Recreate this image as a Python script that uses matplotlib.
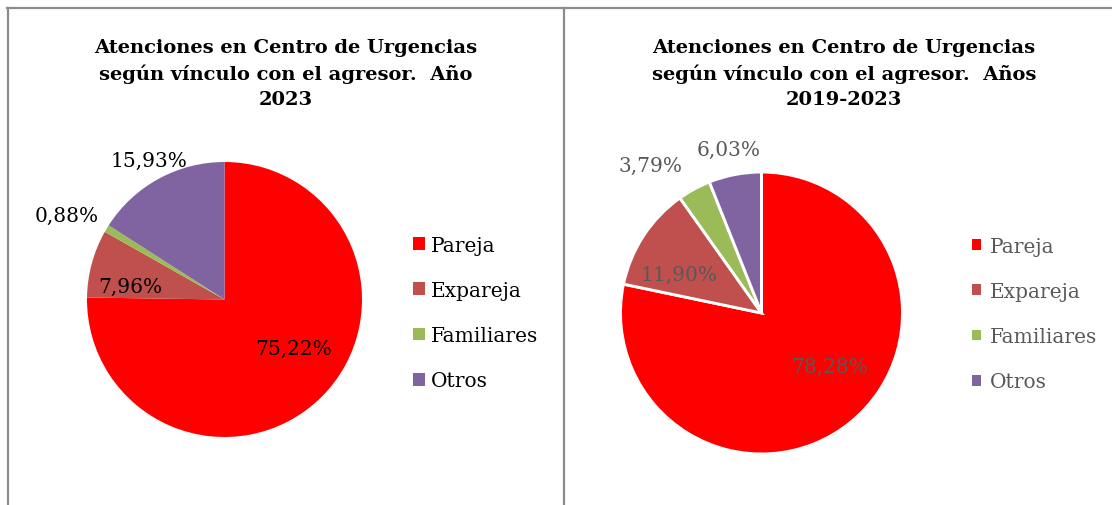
import matplotlib
matplotlib.use("Agg")
import matplotlib.pyplot as plt
from matplotlib.lines import Line2D
from matplotlib.patches import Patch

categories = ["Pareja", "Expareja", "Familiares", "Otros"]
values_2023 = [75.22, 7.96, 0.88, 15.93]
values_2019_2023 = [78.28, 11.90, 3.79, 6.03]
labels_2023 = ["75,22%", "7,96%", "0,88%", "15,93%"]
labels_2019_2023 = ["78,28%", "11,90%", "3,79%", "6,03%"]
title_2023 = "Atenciones en Centro de Urgencias\nsegún vínculo con el agresor.  Año\n2023"
title_2019_2023 = "Atenciones en Centro de Urgencias\nsegún vínculo con el agresor.  Años\n2019-2023"

colors = ["#FF0000", "#C0504D", "#9BBB59", "#8064A2"]
FONT = "DejaVu Serif"

W, H = 1112, 506
fig = plt.figure(figsize=(W / 100, H / 100), dpi=100)
fig.patch.set_facecolor("white")

# panel borders
gray = "#8c8c8c"
fig.add_artist(Line2D([7 / W, 1.0], [1 - 9 / H, 1 - 9 / H], color=gray, lw=1.6))
fig.add_artist(Line2D([8 / W, 8 / W], [0, 1 - 9 / H], color=gray, lw=1.6))
fig.add_artist(Line2D([564 / W, 564 / W], [0, 1 - 9 / H], color=gray, lw=1.6))

# label offsets in radius units (text placement)
offs_left = [(0.502, -0.353), (-0.687, 0.095), (-1.145, 0.615), (-0.549, 1.015)]
offs_right = [(0.486, -0.376), (-0.585, 0.277), (-0.784, 1.050), (-0.230, 1.163)]


def make_pie(cx, cy, r, vals, labels, offs, edge, txtcolor):
    ax = fig.add_axes([(cx - r) / W, 1 - (cy + r) / H, 2 * r / W, 2 * r / H])
    wedges, _ = ax.pie(vals, colors=colors, startangle=90, counterclock=False,
                       radius=1.0,
                       wedgeprops=dict(edgecolor="white" if edge else "none",
                                       linewidth=edge if edge else 0))
    ax.set_xlim(-1, 1)
    ax.set_ylim(-1, 1)
    ax.set_aspect("equal")
    ax.axis("off")
    for lab, (dx, dy) in zip(labels, offs):
        ax.text(dx, dy, lab, ha="center", va="center", fontsize=14.5,
                family=FONT, color=txtcolor, clip_on=False)
    return ax, wedges


axL, wL = make_pie(224.5, 300.5, 137.5, values_2023, labels_2023, offs_left, 0, "black")
axR, wR = make_pie(761.5, 314, 141, values_2019_2023, labels_2019_2023, offs_right, 2.1, "#595959")

fig.text(286 / W, 1 - 74 / H, title_2023, ha="center", va="center", fontsize=14,
         fontweight="bold", family=FONT, linespacing=1.52)
fig.text(844 / W, 1 - 74 / H, title_2019_2023, ha="center", va="center", fontsize=14,
         fontweight="bold", family=FONT, linespacing=1.52)

handles = [Patch(facecolor=c, edgecolor="none") for c in colors]
legL = fig.legend(handles, categories, loc="center left",
                  bbox_to_anchor=(395 / W, 1 - 314 / H), frameon=False,
                  prop=dict(family=FONT, size=14.5), handlelength=0.6, handleheight=0.6,
                  handletextpad=0.3, labelspacing=1.3)
legR = fig.legend(handles, categories, loc="center left",
                  bbox_to_anchor=(954 / W, 1 - 315 / H), frameon=False,
                  prop=dict(family=FONT, size=14.5), handlelength=0.45, handleheight=0.45,
                  handletextpad=0.45, labelspacing=1.3, labelcolor="#595959")

fig.savefig("out.png", dpi=100, facecolor="white")
